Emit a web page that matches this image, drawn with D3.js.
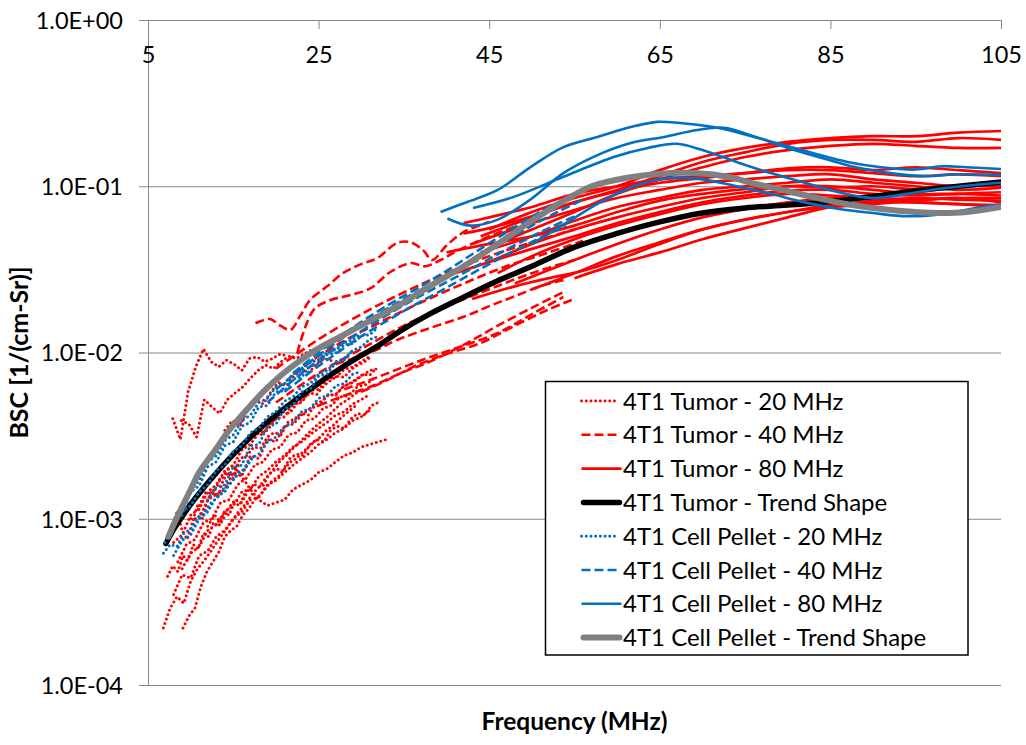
<!DOCTYPE html>
<html>
<head>
<meta charset="utf-8">
<script src="https://cdn.jsdelivr.net/npm/d3@7"></script>
<style>
body { margin: 0; background: #fff; }
svg { display: block; }
text { font-family: Lato, "Liberation Sans", sans-serif; fill: #000; }
</style>
</head>
<body>
<script>
// axis ticks
var freqTicks = [5, 25, 45, 65, 85, 105];
var bscTicks = [1, 0.1, 0.01, 0.001, 0.0001];
var bscTickLabels = ["1.0E+00", "1.0E-01", "1.0E-02", "1.0E-03", "1.0E-04"];

var legendLabels = [
    "4T1 Tumor - 20 MHz",
    "4T1 Tumor - 40 MHz",
    "4T1 Tumor - 80 MHz",
    "4T1 Tumor - Trend Shape",
    "4T1 Cell Pellet - 20 MHz",
    "4T1 Cell Pellet - 40 MHz",
    "4T1 Cell Pellet - 80 MHz",
    "4T1 Cell Pellet - Trend Shape"
];

// 20 MHz transducer curves: noisy, read as start freq, step, values
var tumor20 = [
    {start: 7.9, step: 0.9, bsc: [0.0040, 0.0030, 0.0058, 0.0082, 0.0105, 0.0088, 0.0082, 0.0090, 0.0085, 0.0078, 0.0092, 0.0094, 0.0088, 0.0092, 0.0098, 0.0095]},
    {start: 8.9, step: 0.9, bsc: [0.0039, 0.0037, 0.0031, 0.0052, 0.0047, 0.0043, 0.0052, 0.0057, 0.0062, 0.0070, 0.0078, 0.0084, 0.0080, 0.0088, 0.0095, 0.0092, 0.0098, 0.0104]},
    {start: 14, step: 1, bsc: [0.0019, 0.0021, 0.0018, 0.0015, 0.0013, 0.0012, 0.00125, 0.0013, 0.0015, 0.0016, 0.0017, 0.0019, 0.0020, 0.0022, 0.0024, 0.0025, 0.0027, 0.0028, 0.0029, 0.0030]},
    {start: 6.8, step: 0.8, bsc: [0.00022, 0.00029, 0.00034, 0.00031, 0.00042, 0.00050, 0.00056, 0.00064, 0.00074, 0.00084, 0.00096, 0.0011, 0.00122, 0.0014, 0.00155, 0.00175, 0.00195, 0.0022, 0.0024, 0.00265, 0.0029, 0.0032, 0.0035, 0.0038, 0.0041, 0.0045, 0.0049, 0.0052, 0.0056, 0.0060]},
    {start: 9.1, step: 0.7, bsc: [0.00022, 0.00026, 0.00029, 0.00039, 0.00048, 0.00055, 0.00063, 0.00078, 0.00085, 0.0009, 0.00105, 0.00115, 0.0013, 0.0014, 0.00155, 0.0017, 0.0018, 0.0020, 0.0022, 0.0023, 0.0025, 0.0027, 0.0029, 0.0031, 0.0034, 0.0036, 0.0039, 0.0042, 0.0045, 0.0048]},
    {start: 8, step: 1, bsc: [0.00072, 0.0008, 0.00105, 0.00115, 0.00145, 0.0016, 0.00195, 0.0021, 0.0026, 0.0028, 0.0033, 0.0034, 0.0040, 0.0041, 0.0049, 0.0050, 0.0059, 0.0060, 0.0069, 0.0071, 0.0079, 0.0082, 0.0088, 0.0095]},
    {start: 8.5, step: 1, bsc: [0.00055, 0.0007, 0.00075, 0.00095, 0.001, 0.00125, 0.0013, 0.0016, 0.00175, 0.0021, 0.0022, 0.0026, 0.0027, 0.0032, 0.0033, 0.0039, 0.0040, 0.0046, 0.0048, 0.0054, 0.0055, 0.0062, 0.0064, 0.0070]},
    {start: 9, step: 1, bsc: [0.0005, 0.00062, 0.00068, 0.00085, 0.00092, 0.0011, 0.0012, 0.00145, 0.0015, 0.0018, 0.00195, 0.0022, 0.0024, 0.0027, 0.0029, 0.0032, 0.0035, 0.0038, 0.0042, 0.0044, 0.0049, 0.0052, 0.0056]},
    {start: 8, step: 1, bsc: [0.00035, 0.00046, 0.00044, 0.0006, 0.00064, 0.00078, 0.00085, 0.001, 0.0011, 0.0013, 0.00135, 0.0016, 0.0017, 0.0019, 0.0021, 0.0023, 0.0025, 0.0028, 0.0030, 0.0033, 0.0035, 0.0039, 0.0041, 0.0045]},
    {start: 10, step: 1, bsc: [0.001, 0.001, 0.0013, 0.0014, 0.0015, 0.0019, 0.0018, 0.0024, 0.0023, 0.0030, 0.0029, 0.0036, 0.0037, 0.0042, 0.0046, 0.0048, 0.0055, 0.0056, 0.0063, 0.0066, 0.0072, 0.0078, 0.0080]},
    {start: 11, step: 0.8, bsc: [0.0012, 0.00145, 0.0014, 0.0017, 0.0019, 0.00185, 0.0023, 0.0024, 0.0027, 0.00265, 0.0031, 0.0033, 0.0032, 0.0038, 0.0040, 0.0043, 0.0042, 0.0049, 0.0051, 0.0056, 0.0055, 0.0062, 0.0065, 0.0069, 0.0074, 0.0073, 0.0081]},
    {start: 12, step: 0.8, bsc: [0.0009, 0.00105, 0.00095, 0.00115, 0.0013, 0.00125, 0.0015, 0.0016, 0.00155, 0.00185, 0.0020, 0.00195, 0.0023, 0.00245, 0.0024, 0.0028, 0.0030, 0.0029, 0.0034, 0.0036, 0.0035, 0.0040, 0.0043, 0.0042, 0.0048, 0.0050]},
    {start: 16, step: 0.8, bsc: [0.0026, 0.0030, 0.0033, 0.0032, 0.0037, 0.0040, 0.0044, 0.0043, 0.0049, 0.0053, 0.0057, 0.0056, 0.0063, 0.0068, 0.0072, 0.0071, 0.0079, 0.0084, 0.0088, 0.0095]},
    {start: 14, step: 0.9, bsc: [0.0034, 0.0039, 0.0036, 0.0046, 0.0052, 0.0049, 0.0058, 0.0066, 0.0063, 0.0072, 0.0079, 0.0076, 0.0086, 0.0092, 0.0089]},
    {start: 7.3, step: 0.6, bsc: [0.00045, 0.00052, 0.00048, 0.0006, 0.00056, 0.0007, 0.00066, 0.00082, 0.00078, 0.00095, 0.0009, 0.0011, 0.00105, 0.00125, 0.0012, 0.0014]},
    {start: 7.8, step: 0.6, bsc: [0.0009, 0.0011, 0.00085, 0.00075, 0.00095, 0.0012, 0.001, 0.0013, 0.0015, 0.00135, 0.0017, 0.0019, 0.00175, 0.0021]}
];

// 40 MHz transducer curves: [freq MHz, BSC]
var tumor40 = [
    [[17.6, 0.015], [19.3, 0.0159], [20.5, 0.0145], [21.7, 0.0137], [22.8, 0.0165], [24, 0.0207], [26, 0.025], [27.9, 0.0301], [30, 0.034], [31.9, 0.037], [34.2, 0.0456], [35.8, 0.046], [37.3, 0.041], [38.3, 0.036], [40, 0.044], [42, 0.053], [45, 0.061]],
    [[22.5, 0.0099], [24.4, 0.018], [26.4, 0.0207], [28.5, 0.022], [31.1, 0.0244], [33.4, 0.0305], [35.8, 0.0345], [37.5, 0.033], [39.3, 0.036], [41.3, 0.041], [45, 0.05], [48, 0.057]],
    [[20, 0.008], [25, 0.012], [30, 0.017], [35, 0.023], [40, 0.03], [45, 0.038], [50, 0.046], [55, 0.055]],
    [[22, 0.0075], [27, 0.011], [32, 0.015], [37, 0.02], [42, 0.026], [47, 0.033], [52, 0.04], [56, 0.047]],
    [[20, 0.005], [25, 0.0075], [30, 0.0105], [35, 0.0145], [40, 0.019], [45, 0.024], [50, 0.03], [55, 0.036]],
    [[27, 0.0085], [29.5, 0.0094], [32, 0.0105], [34.2, 0.0119], [38, 0.014], [42, 0.0164], [45, 0.019], [47.8, 0.0216], [51, 0.025], [53.7, 0.0273]],
    [[28, 0.006], [31.9, 0.0071], [35, 0.0082], [38.1, 0.0094], [42, 0.011], [46, 0.0131], [50, 0.017], [53.7, 0.0216]],
    [[30, 0.0058], [33, 0.0068], [36.1, 0.0082], [40, 0.0098], [44, 0.0114], [48, 0.0145], [51.8, 0.018], [55, 0.021]],
    [[25, 0.0048], [28, 0.0055], [31, 0.0062], [34.6, 0.0075], [38, 0.0088], [42.4, 0.0114], [46, 0.0145], [50.2, 0.0188], [54, 0.0235]]
];

// 80 MHz transducer curves
var tumor80 = [
    [[45, 0.055], [50, 0.07], [55, 0.085], [60, 0.1], [65, 0.125], [70, 0.15], [75, 0.17], [80, 0.185], [85, 0.195], [90, 0.2], [95, 0.2], [100, 0.21], [105, 0.215]],
    [[44, 0.05], [50, 0.065], [55, 0.08], [60, 0.095], [65, 0.115], [70, 0.14], [75, 0.16], [80, 0.18], [85, 0.19], [90, 0.19], [95, 0.185], [100, 0.195], [105, 0.19]],
    [[46, 0.045], [50, 0.055], [55, 0.07], [60, 0.09], [65, 0.11], [70, 0.13], [75, 0.15], [80, 0.165], [85, 0.175], [90, 0.18], [95, 0.175], [100, 0.17], [105, 0.17]],
    [[42, 0.06], [45, 0.065], [50, 0.075], [55, 0.09], [60, 0.1], [65, 0.11], [70, 0.115], [75, 0.12], [80, 0.125], [85, 0.125], [90, 0.12], [95, 0.115], [100, 0.118], [105, 0.115]],
    [[43, 0.045], [50, 0.06], [55, 0.072], [60, 0.085], [65, 0.095], [70, 0.105], [75, 0.11], [80, 0.115], [85, 0.118], [90, 0.11], [95, 0.105], [100, 0.1], [105, 0.105]],
    [[44, 0.04], [50, 0.05], [55, 0.062], [60, 0.075], [65, 0.085], [70, 0.095], [75, 0.1], [80, 0.105], [85, 0.11], [90, 0.105], [95, 0.1], [100, 0.095], [105, 0.098]],
    [[45, 0.035], [50, 0.045], [55, 0.055], [60, 0.065], [65, 0.075], [70, 0.085], [75, 0.092], [80, 0.1], [85, 0.1], [90, 0.095], [95, 0.09], [100, 0.09], [105, 0.088]],
    [[46, 0.03], [50, 0.038], [55, 0.048], [60, 0.058], [65, 0.068], [70, 0.078], [75, 0.085], [80, 0.09], [85, 0.088], [90, 0.085], [95, 0.083], [100, 0.085], [105, 0.08]],
    [[48, 0.026], [55, 0.036], [60, 0.045], [65, 0.055], [70, 0.065], [75, 0.073], [80, 0.08], [85, 0.085], [90, 0.083], [95, 0.08], [100, 0.078], [105, 0.077]],
    [[50, 0.024], [55, 0.03], [60, 0.038], [65, 0.046], [70, 0.055], [75, 0.063], [80, 0.07], [85, 0.077], [90, 0.08], [95, 0.08], [100, 0.078], [105, 0.075]],
    [[42, 0.052], [45, 0.056], [50, 0.066], [55, 0.08], [60, 0.093], [65, 0.105], [70, 0.112], [75, 0.12], [80, 0.128], [85, 0.13], [90, 0.125], [95, 0.13], [100, 0.125], [105, 0.12]],
    [[40, 0.04], [45, 0.045], [50, 0.05], [55, 0.058], [60, 0.07], [65, 0.082], [70, 0.09], [75, 0.096], [80, 0.1], [85, 0.098], [90, 0.1], [95, 0.096], [100, 0.1], [105, 0.1]],
    [[41, 0.03], [45, 0.035], [50, 0.042], [55, 0.05], [60, 0.06], [65, 0.07], [70, 0.08], [75, 0.088], [80, 0.094], [85, 0.095], [90, 0.09], [95, 0.088], [100, 0.09], [105, 0.092]],
    [[55, 0.028], [60, 0.034], [65, 0.04], [70, 0.048], [75, 0.056], [80, 0.065], [85, 0.075], [90, 0.082], [95, 0.085], [100, 0.083], [105, 0.082]],
    [[43, 0.021], [48, 0.025], [52, 0.028], [56, 0.031], [60, 0.036], [65, 0.045], [70, 0.055], [75, 0.063], [80, 0.07], [85, 0.075], [90, 0.078], [95, 0.082], [100, 0.085], [105, 0.085]]
];

var tumorTrend = [[7.1, 0.00071], [8, 0.00086], [9, 0.00103], [10, 0.00122], [11, 0.00142], [12, 0.00164], [14, 0.00215], [16, 0.00275], [18, 0.00345], [20, 0.0042], [22, 0.00505], [24, 0.006], [26, 0.0071], [28, 0.0083], [30, 0.0096], [32, 0.011], [34.6, 0.0135], [38, 0.017], [42, 0.0215], [46, 0.027], [50, 0.033], [55, 0.043], [60, 0.052], [65, 0.061], [70, 0.069], [75, 0.074], [80, 0.077], [85, 0.081], [90, 0.087], [95, 0.094], [100, 0.1], [105, 0.106]];

var pellet20 = [
    {start: 7, step: 1, bsc: [0.00072, 0.00096, 0.00105, 0.00145, 0.00158, 0.00205, 0.0022, 0.00275, 0.0029, 0.0036, 0.0038, 0.0047, 0.0048, 0.0058, 0.0059, 0.0069, 0.0071, 0.0083, 0.0085, 0.0097, 0.0099, 0.0111, 0.0113, 0.0126, 0.0128, 0.0142]},
    {start: 8, step: 1, bsc: [0.00095, 0.00115, 0.0015, 0.0017, 0.0022, 0.0024, 0.00295, 0.0032, 0.0039, 0.0042, 0.0050, 0.0053, 0.0062, 0.0065, 0.0074, 0.0078, 0.0087, 0.0090, 0.0100, 0.0104, 0.0115, 0.0119, 0.0130]},
    {start: 8, step: 1, bsc: [0.0006, 0.00074, 0.0008, 0.001, 0.0011, 0.00135, 0.00145, 0.00175, 0.0019, 0.0023, 0.00245, 0.0029, 0.0031, 0.0036, 0.0038, 0.0044, 0.0046, 0.0053, 0.0055, 0.0063, 0.0065, 0.0074, 0.0077]},
    {start: 9, step: 1, bsc: [0.0011, 0.0012, 0.00145, 0.0016, 0.00195, 0.0021, 0.00255, 0.00275, 0.0033, 0.0035, 0.0041, 0.0044, 0.0051, 0.0054, 0.0062, 0.0065, 0.0074, 0.0078, 0.0088, 0.0092, 0.0103, 0.0108, 0.012, 0.0125]},
    {start: 12, step: 1, bsc: [0.0013, 0.00155, 0.0016, 0.00205, 0.0021, 0.00275, 0.0028, 0.0036, 0.0037, 0.0046, 0.0048, 0.0058, 0.006, 0.0072, 0.0074, 0.0087, 0.009, 0.0103]},
    {start: 6.8, step: 0.8, bsc: [0.00062, 0.0007, 0.00068, 0.00082, 0.00086, 0.00102, 0.00108, 0.00125, 0.00135, 0.00155, 0.00165, 0.0019, 0.002, 0.0023]}
];

var pellet40 = [
    [[20, 0.006], [23, 0.008], [26, 0.0105], [29, 0.0135], [32, 0.017], [35, 0.021], [38, 0.0255], [41, 0.031], [44, 0.038], [47, 0.047], [50, 0.058], [53, 0.07], [56, 0.083]],
    [[19, 0.005], [22, 0.0068], [25, 0.009], [28, 0.0115], [31, 0.0145], [34, 0.018], [37, 0.022], [40, 0.0265], [43, 0.032], [46, 0.039], [49, 0.047], [52, 0.056], [55, 0.066]],
    [[21, 0.0058], [24, 0.0076], [27, 0.0098], [30, 0.0125], [33, 0.0155], [36, 0.019], [39, 0.023], [42, 0.028], [45, 0.034], [48, 0.041], [51, 0.049], [54, 0.058]],
    [[22, 0.0075], [25, 0.01], [28, 0.013], [31, 0.0165], [34, 0.0205], [37, 0.025], [40, 0.031], [43, 0.039], [46, 0.049], [49, 0.061], [52, 0.075], [55, 0.088]]
];

var pellet80 = [
    [[39.3, 0.07], [42, 0.079], [46, 0.095], [49.8, 0.13], [53.7, 0.172], [57.7, 0.198], [61.6, 0.227], [64.7, 0.244], [67.4, 0.24], [71.3, 0.227], [75, 0.205], [79, 0.18], [83, 0.158], [87, 0.14], [91, 0.13], [95, 0.126], [98, 0.132], [101, 0.13], [105, 0.127]],
    [[40.1, 0.064], [42.8, 0.058], [46, 0.063], [49.8, 0.083], [53.7, 0.12], [57.7, 0.154], [61.6, 0.182], [65.5, 0.198], [69.4, 0.218], [72.5, 0.225], [76, 0.2], [80, 0.17], [84, 0.148], [88, 0.13], [92, 0.12], [96, 0.115], [100, 0.118], [105, 0.117]],
    [[43.1, 0.074], [47.8, 0.086], [53.7, 0.114], [59.6, 0.15], [63.6, 0.17], [67, 0.18], [70, 0.165], [74, 0.14], [78, 0.12], [82, 0.105], [86, 0.092], [90, 0.085], [94, 0.09], [98, 0.097], [102, 0.102], [105, 0.105]],
    [[50, 0.045], [54, 0.06], [58, 0.08], [62, 0.1], [66, 0.112], [70, 0.11], [74, 0.1], [78, 0.09], [82, 0.08], [86, 0.073], [90, 0.069], [94, 0.066], [98, 0.068], [102, 0.074], [105, 0.078]]
];

var pelletTrend = [[7.4, 0.00078], [8, 0.00092], [9, 0.00118], [10, 0.0015], [11, 0.0019], [12.9, 0.0026], [14.5, 0.0034], [16.7, 0.0046], [18.5, 0.0058], [20.6, 0.0073], [22.5, 0.0087], [24.6, 0.0103], [28, 0.0128], [31, 0.0155], [34.6, 0.0195], [38, 0.025], [42, 0.033], [46, 0.045], [50, 0.062], [54, 0.083], [57, 0.1], [61, 0.112], [65, 0.119], [69, 0.12], [73, 0.114], [76, 0.104], [79, 0.096], [83, 0.086], [87, 0.078], [91, 0.073], [95, 0.07], [98, 0.069], [101, 0.07], [105, 0.075]];

// styles per group, in legend order
var groups = [
    {data: tumor20, steps: true, color: "#FF0000", width: 2.9, dash: "0.1,4.6", cap: "round"},
    {data: tumor40, color: "#FF0000", width: 2.6, dash: "9,4", cap: "butt"},
    {data: tumor80, color: "#FF0000", width: 2.7, dash: null, cap: "butt"},
    {data: [tumorTrend], color: "#000000", width: 5.5, dash: null, cap: "round"},
    {data: pellet20, steps: true, color: "#0070C0", width: 2.9, dash: "0.1,4.6", cap: "round"},
    {data: pellet40, color: "#0070C0", width: 2.6, dash: "9,4", cap: "butt"},
    {data: pellet80, color: "#0070C0", width: 2.6, dash: null, cap: "butt"},
    {data: [pelletTrend], color: "#808080", width: 6, dash: null, cap: "round"}
];

function expand(s) {
    return s.bsc.map(function(v, i) { return [s.start + i * s.step, v]; });
}

var width = 1026, height = 745;
var plot = {left: 148, right: 1001, top: 20, bottom: 685};

var x = d3.scaleLinear().domain([5, 105]).range([plot.left, plot.right]);
var y = d3.scaleLog().domain([1e-4, 1]).range([plot.bottom, plot.top]);

var svg = d3.select("body").append("svg")
    .attr("width", width)
    .attr("height", height);

// gridlines
svg.append("g")
    .attr("class", "grid")
    .attr("transform", "translate(" + plot.left + ",0)")
    .call(d3.axisLeft(y).tickValues(bscTicks).tickSizeInner(-(plot.right - plot.left)).tickSizeOuter(0).tickFormat(""))
    .call(function(g) { g.select(".domain").remove(); })
    .selectAll("line").attr("stroke", "#888");

// y axis
var yAxis = svg.append("g")
    .attr("transform", "translate(" + plot.left + ",0)")
    .call(d3.axisLeft(y).tickValues(bscTicks)
        .tickFormat(function(d, i) { return bscTickLabels[i]; })
        .tickSizeInner(9).tickSizeOuter(0).tickPadding(16));
yAxis.select(".domain").attr("stroke", "#888");
yAxis.selectAll("line").attr("stroke", "#888");
yAxis.selectAll("text").style("font-size", "23.5px").attr("fill", "#000").attr("dy", "0.36em");

// x axis along the top, ticks pointing down, labels below the line
var xAxis = svg.append("g")
    .attr("transform", "translate(0," + plot.top + ")")
    .call(d3.axisTop(x).tickValues(freqTicks).tickSizeInner(-9).tickSizeOuter(0));
xAxis.select(".domain").attr("stroke", "#888");
xAxis.selectAll("line").attr("stroke", "#888");
xAxis.selectAll("text").style("font-size", "23.5px").attr("fill", "#000").attr("y", 35).attr("dy", "0.36em");

svg.append("clipPath").attr("id", "clip")
  .append("rect")
    .attr("x", plot.left).attr("y", plot.top)
    .attr("width", plot.right - plot.left).attr("height", plot.bottom - plot.top);

var smooth = d3.line()
    .x(function(d) { return x(d[0]); })
    .y(function(d) { return y(d[1]); })
    .curve(d3.curveCatmullRom.alpha(0.5));

var jagged = d3.line()
    .x(function(d) { return x(d[0]); })
    .y(function(d) { return y(d[1]); });

var series = svg.append("g").attr("clip-path", "url(#clip)");

groups.forEach(function(gr) {
    series.append("g")
        .selectAll("path")
        .data(gr.steps ? gr.data.map(expand) : gr.data)
        .join("path")
        .attr("d", gr.steps ? jagged : smooth)
        .attr("fill", "none")
        .attr("stroke", gr.color)
        .attr("stroke-width", gr.width)
        .attr("stroke-dasharray", gr.dash)
        .attr("stroke-linecap", gr.cap)
        .attr("stroke-linejoin", "round");
});

// axis titles
svg.append("text")
    .attr("x", (plot.left + plot.right) / 2)
    .attr("y", 730)
    .attr("text-anchor", "middle")
    .style("font-size", "24.5px")
    .style("font-weight", "bold")
    .text("Frequency (MHz)");

svg.append("text")
    .attr("transform", "translate(28," + (plot.top + plot.bottom) / 2 + ") rotate(-90)")
    .attr("text-anchor", "middle")
    .style("font-size", "25px")
    .style("font-weight", "bold")
    .text("BSC [1/(cm-Sr)]");

// legend
var legend = svg.append("g").attr("transform", "translate(545.5,381.5)");
legend.append("rect")
    .attr("width", 422.5)
    .attr("height", 273.5)
    .attr("fill", "#fff")
    .attr("stroke", "#000")
    .attr("stroke-width", 1.5);

var item = legend.selectAll("g.item")
    .data(legendLabels)
    .join("g")
    .attr("class", "item")
    .attr("transform", function(d, i) { return "translate(0," + (19.5 + i * 33.8) + ")"; });

item.append("line")
    .attr("x1", function(d, i) { return groups[i].cap === "round" && !groups[i].dash ? 38 : 36; })
    .attr("x2", function(d, i) { return groups[i].dash ? 73 : (groups[i].cap === "round" ? 74 : 76); })
    .attr("stroke", function(d, i) { return groups[i].color; })
    .attr("stroke-width", function(d, i) { return groups[i].width; })
    .attr("stroke-dasharray", function(d, i) { return groups[i].dash; })
    .attr("stroke-linecap", function(d, i) { return groups[i].cap; });

item.append("text")
    .attr("x", 77.5)
    .attr("dy", "0.36em")
    .style("font-size", "24px")
    .text(function(d) { return d; });
</script>
</body>
</html>
